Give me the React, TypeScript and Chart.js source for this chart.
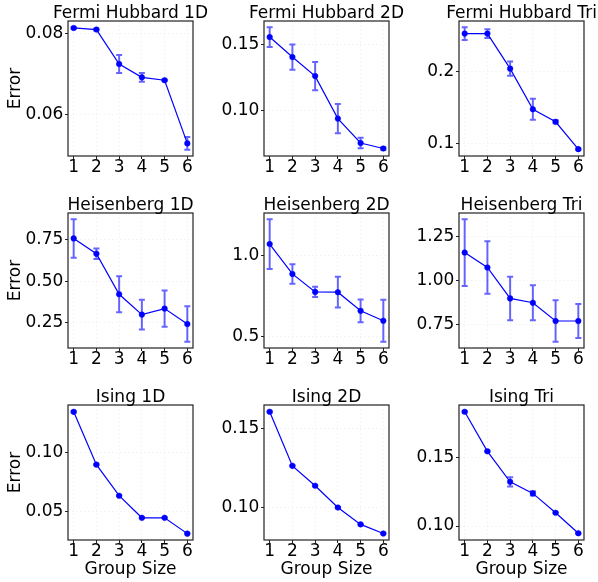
import React, { useEffect, useRef } from 'react';
import { Chart, registerables } from 'chart.js';

Chart.register(...registerables);

// ---------- data ----------
const groupSizes = [1, 2, 3, 4, 5, 6];

const titles = [
  'Fermi Hubbard 1D', 'Fermi Hubbard 2D', 'Fermi Hubbard Tri',
  'Heisenberg 1D', 'Heisenberg 2D', 'Heisenberg Tri',
  'Ising 1D', 'Ising 2D', 'Ising Tri',
];

const fermi1dMean = [0.0814, 0.0810, 0.0725, 0.0692, 0.0685, 0.0529];
const fermi1dErr = [0.0002, 0.0002, 0.0022, 0.0011, 0.0002, 0.0016];
const fermi2dMean = [0.1554, 0.1403, 0.1259, 0.0938, 0.0754, 0.0712];
const fermi2dErr = [0.0075, 0.0095, 0.0106, 0.0110, 0.0040, 0.0010];
const fermiTriMean = [0.2528, 0.2528, 0.2041, 0.1477, 0.1302, 0.0922];
const fermiTriErr = [0.0090, 0.0060, 0.0098, 0.0147, 0.0020, 0.0010];

const heis1dMean = [0.758, 0.6657, 0.4217, 0.2992, 0.3353, 0.242];
const heis1dErr = [0.116, 0.032, 0.108, 0.089, 0.109, 0.107];
const heis2dMean = [1.0717, 0.8873, 0.7766, 0.7746, 0.6598, 0.5984];
const heis2dErr = [0.1537, 0.0605, 0.032, 0.095, 0.0697, 0.13];
const heisTriMean = [1.1579, 1.0733, 0.8985, 0.874, 0.7707, 0.7707];
const heisTriErr = [0.189, 0.1485, 0.123, 0.0996, 0.118, 0.096];

const ising1dMean = [0.1344, 0.0897, 0.0634, 0.0447, 0.0447, 0.0313];
const ising1dErr = [0.0006, 0.0004, 0.0003, 0.0002, 0.0002, 0.0002];
const ising2dMean = [0.1607, 0.1264, 0.1138, 0.1000, 0.0893, 0.0835];
const ising2dErr = [0.0004, 0.0003, 0.0003, 0.0003, 0.0002, 0.0002];
const isingTriMean = [0.183, 0.1543, 0.1321, 0.1237, 0.1096, 0.0947];
const isingTriErr = [0.0005, 0.0004, 0.0033, 0.0015, 0.0004, 0.0004];

const xTickLabels = ['1', '2', '3', '4', '5', '6'];
const yTickLabels = [
  ['0.08', '0.06'], ['0.15', '0.10'], ['0.2', '0.1'],
  ['0.75', '0.50', '0.25'], ['1.0', '0.5'], ['1.25', '1.00', '0.75'],
  ['0.10', '0.05'], ['0.15', '0.10'], ['0.15', '0.10'],
];

const means = [fermi1dMean, fermi2dMean, fermiTriMean, heis1dMean, heis2dMean, heisTriMean, ising1dMean, ising2dMean, isingTriMean];
const errs = [fermi1dErr, fermi2dErr, fermiTriErr, heis1dErr, heis2dErr, heisTriErr, ising1dErr, ising2dErr, isingTriErr];

// ---------- layout ----------
const FONT = 'DejaVu Sans';
const FS = 17;
const COL_LEFT = [0, 196, 391];
const ROW_TOP = [0, 192, 384];
const PLOT_W = 125;
const COL_PAD_RIGHT = [24, 24, 14];
const CH = 198;
const YW = 68;
const PAD_TOP = 21;
const XH = 42;
const BLUE = '#0000ff';

function makeConfig(idx: number): any {
  const mean = means[idx];
  const err = errs[idx];
  const row = Math.floor(idx / 3);
  const col = idx % 3;
  let lo = Infinity, hi = -Infinity;
  mean.forEach((m, i) => { lo = Math.min(lo, m - err[i]); hi = Math.max(hi, m + err[i]); });
  const pad = (hi - lo) * 0.05;
  const yTicks = yTickLabels[idx];

  const errorBars = {
    id: 'errorBars' + idx,
    beforeDatasetsDraw(chart: any) {
      const { ctx, scales } = chart;
      const xs = scales.x, ys = scales.y;
      ctx.save();
      ctx.strokeStyle = 'rgba(0,0,255,0.6)';
      ctx.lineWidth = 2;
      groupSizes.forEach((g, i) => {
        const px = xs.getPixelForValue(g);
        const t = ys.getPixelForValue(mean[i] + err[i]);
        const b = ys.getPixelForValue(mean[i] - err[i]);
        ctx.beginPath();
        ctx.moveTo(px, t); ctx.lineTo(px, b);
        ctx.moveTo(px - 3, t); ctx.lineTo(px + 3, t);
        ctx.moveTo(px - 3, b); ctx.lineTo(px + 3, b);
        ctx.stroke();
      });
      ctx.restore();
    },
  };

  const frameAndTitle = {
    id: 'frame' + idx,
    afterDraw(chart: any) {
      const { ctx, chartArea } = chart;
      const { left, top, right, bottom } = chartArea;
      ctx.save();
      ctx.strokeStyle = '#222';
      ctx.lineWidth = 1.2;
      ctx.strokeRect(left, top, right - left, bottom - top);
      ctx.fillStyle = '#000';
      ctx.font = `${FS}px "${FONT}"`;
      ctx.textAlign = 'center';
      ctx.textBaseline = 'alphabetic';
      ctx.fillText(titles[idx], (left + right) / 2, top - 3.5);
      ctx.restore();
    },
  };

  const gridCommon = {
    color: 'rgba(0,0,0,0.07)',
    lineWidth: 0.8,
    tickLength: 3,
    tickColor: '#222',
    tickWidth: 1,
    tickBorderDash: [],
  };

  return {
    type: 'line',
    data: {
      datasets: [{
        data: groupSizes.map((g, i) => ({ x: g, y: mean[i] })),
        borderColor: BLUE,
        backgroundColor: BLUE,
        borderWidth: 1.2,
        pointRadius: 2.8,
        pointBorderWidth: 0.5,
        pointBackgroundColor: BLUE,
        pointBorderColor: BLUE,
        tension: 0,
        fill: false,
      }],
    },
    options: {
      animation: false,
      responsive: false,
      events: [],
      layout: { padding: { left: 0, right: COL_PAD_RIGHT[col], top: PAD_TOP, bottom: 0 } },
      plugins: { legend: { display: false }, tooltip: { enabled: false }, title: { display: false } },
      scales: {
        x: {
          type: 'linear',
          min: 0.75,
          max: 6.25,
          afterBuildTicks: (s: any) => { s.ticks = xTickLabels.map((t) => ({ value: parseFloat(t) })); },
          afterFit: (s: any) => { s.height = XH; },
          ticks: {
            autoSkip: false, maxRotation: 0, padding: 0, color: '#000',
            font: { family: FONT, size: FS, lineHeight: 1 },
            callback: (v: any) => String(v),
          },
          grid: gridCommon,
          border: { display: false, dash: [1.5, 2.5] },
          title: {
            display: row === 2, text: 'Group Size', color: '#000',
            font: { family: FONT, size: FS, lineHeight: 1.2 }, padding: { top: 0, bottom: 2 },
          },
        },
        y: {
          type: 'linear',
          min: lo - pad,
          max: hi + pad,
          afterBuildTicks: (s: any) => { s.ticks = yTicks.map((t) => ({ value: parseFloat(t) })); },
          afterFit: (s: any) => { s.width = YW; },
          ticks: {
            autoSkip: false, padding: 1.7, color: '#000',
            font: { family: FONT, size: FS, lineHeight: 1 },
            callback: (v: any) => {
              const k = yTicks.findIndex((t) => Math.abs(parseFloat(t) - v) < 1e-9);
              return k >= 0 ? yTicks[k] : '';
            },
          },
          grid: gridCommon,
          border: { display: false, dash: [1.5, 2.5] },
          title: {
            display: col === 0, text: 'Error', color: '#000',
            font: { family: FONT, size: FS, lineHeight: 1.2 }, padding: { top: 5, bottom: 0 },
          },
        },
      },
    },
    plugins: [errorBars, frameAndTitle],
  };
}

function Panel({ idx }: { idx: number }) {
  const ref = useRef<HTMLCanvasElement | null>(null);
  useEffect(() => {
    const chart = new Chart(ref.current as HTMLCanvasElement, makeConfig(idx));
    return () => chart.destroy();
  }, [idx]);
  const col = idx % 3;
  const left = COL_LEFT[col];
  const top = ROW_TOP[Math.floor(idx / 3)];
  const cw = YW + PLOT_W + COL_PAD_RIGHT[col];
  return (
    <canvas
      ref={ref}
      width={cw}
      height={CH}
      style={{ position: 'absolute', left, top, width: cw, height: CH }}
    />
  );
}

export default function App() {
  return (
    <div style={{ position: 'absolute', left: 0, top: 0, width: 598, height: 582, background: '#fff', overflow: 'hidden' }}>
      {titles.map((_, i) => <Panel key={i} idx={i} />)}
    </div>
  );
}
